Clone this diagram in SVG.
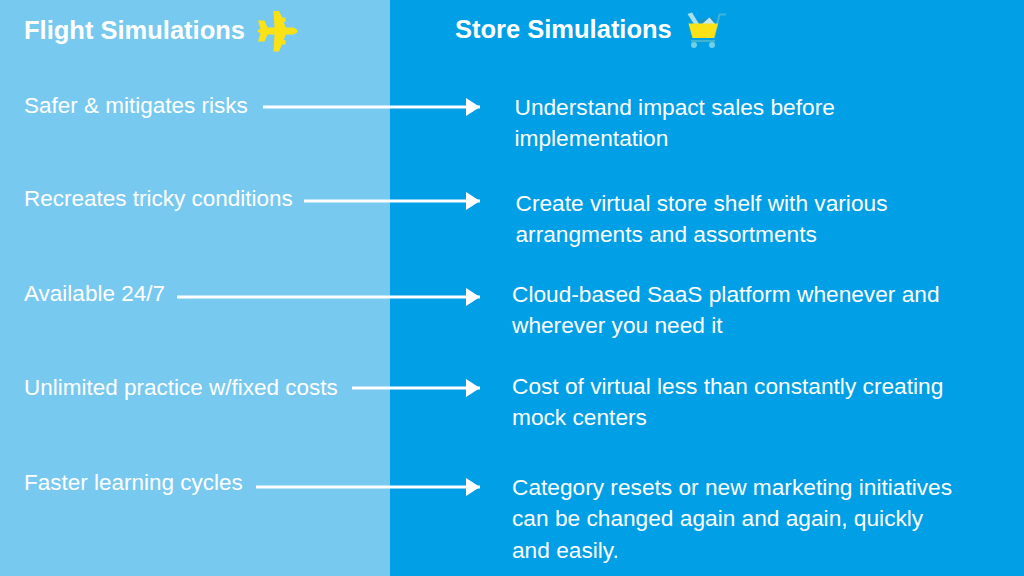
<svg xmlns="http://www.w3.org/2000/svg" width="1024" height="576" viewBox="0 0 1024 576">
<style>
text{font-family:"Liberation Sans",Arial,sans-serif;fill:#fff;font-size:22.500px}
.r text{font-size:22.700px}
.h{font-weight:700;font-size:25.500px}
.c line{stroke:#fff;stroke-width:3}
.t{fill:none;stroke:#3fb5d2;stroke-width:2}
</style>
<defs><marker id="a" markerUnits="userSpaceOnUse" markerWidth="14" markerHeight="18" refX="14" refY="9" orient="auto"><path d="M0 0L14 9L0 18Z" fill="#fff"/></marker></defs>
<rect width="1024" height="576" fill="#009fe6"/>
<rect width="390" height="576" fill="#78c9f0"/>
<g id="flight-header"><text class="h" x="24" y="39">Flight Simulations</text>
<path d="M257 31L260.500 28.500L258 20.500L264.500 20.500L267.500 27.500H274.500L273.500 11H279L282 17.500H285.500V22H283.500L286 27.500H293Q297.500 29 297.500 31Q297.500 33 293 34.500H286L283.500 40H285.500V44.500H282L279 51.500H273.500L274.500 34.500H267.500L264.500 41.500H258L260.500 33.500Z" fill="#fbe216"/></g>
<g id="store-header"><text class="h" x="455" y="38">Store Simulations</text>
<path class="t" d="M714 38L719.500 14.500H726"/>
<path d="M687.500 14L692 12.500L699 24H694Z" fill="#a8e0f0"/>
<path d="M699 20L713 17L716 24H701Z" fill="#1f93bd"/><path d="M702 24L709.500 17.500L715 24Z" fill="#bfe8f2"/>
<path d="M688.500 23.500H718L714 38H692.500Z" fill="#fbe216"/>
<path class="t" d="M691 41H715"/>
<circle cx="694" cy="45" r="3" fill="#6fd0e6"/><circle cx="712" cy="45" r="3" fill="#6fd0e6"/></g>
<g class="c" id="connectors">
<line x1="263" y1="107" x2="480" y2="107" marker-end="url(#a)"/>
<line x1="304" y1="201" x2="480" y2="201" marker-end="url(#a)"/>
<line x1="177" y1="297" x2="480" y2="297" marker-end="url(#a)"/>
<line x1="352" y1="388" x2="480" y2="388" marker-end="url(#a)"/>
<line x1="256" y1="487" x2="480" y2="487" marker-end="url(#a)"/>
</g>
<g id="n1"><text x="24" y="113">Safer &amp; mitigates risks</text></g>
<g id="n2"><text x="24" y="206">Recreates tricky conditions</text></g>
<g id="n3"><text x="24" y="301">Available 24/7</text></g>
<g id="n4"><text x="24" y="395">Unlimited practice w/fixed costs</text></g>
<g id="n5"><text x="24" y="490">Faster learning cycles</text></g>
<g id="r1" class="r"><text x="514.500" y="115">Understand impact sales before</text><text x="514.500" y="146">implementation</text></g>
<g id="r2" class="r"><text x="515.500" y="211">Create virtual store shelf with various</text><text x="515.500" y="242">arrangments and assortments</text></g>
<g id="r3" class="r"><text x="512" y="302">Cloud-based SaaS platform whenever and</text><text x="512" y="333">wherever you need it</text></g>
<g id="r4" class="r"><text x="512" y="394">Cost of virtual less than constantly creating</text><text x="512" y="425">mock centers</text></g>
<g id="r5" class="r"><text x="512" y="495">Category resets or new marketing initiatives</text><text x="512" y="526">can be changed again and again, quickly</text><text x="512" y="558">and easily.</text></g>
</svg>
